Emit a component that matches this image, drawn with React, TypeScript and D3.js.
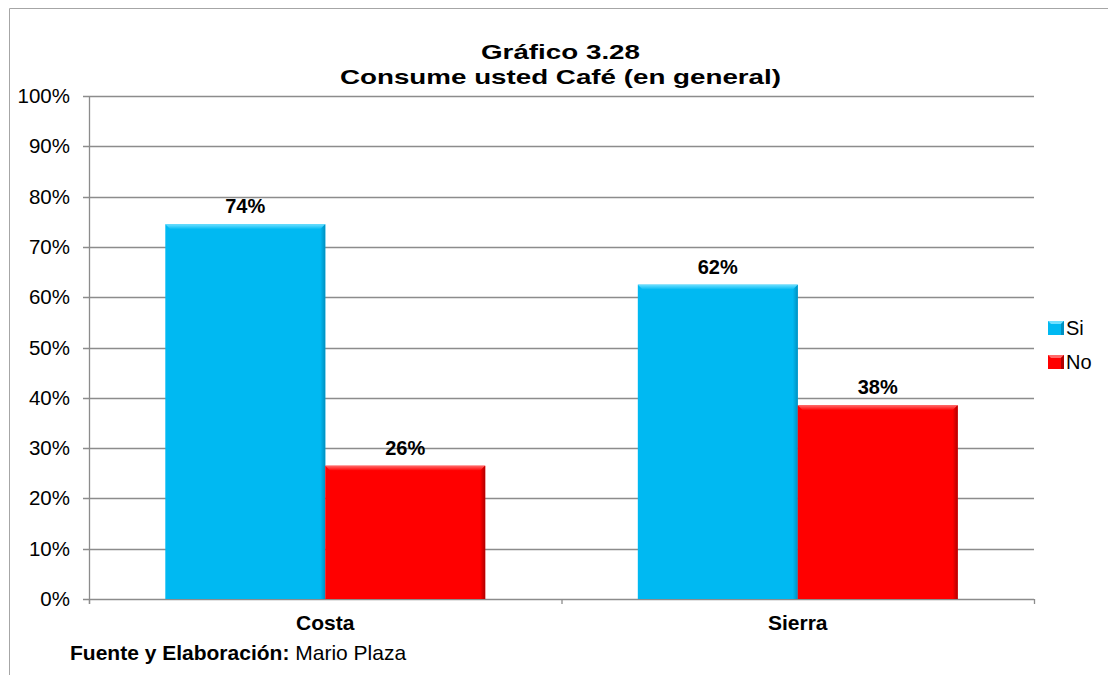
import React from "react";
import * as d3 from "d3";

const categories = ["Costa", "Sierra"];
const seriesNames = ["Si", "No"];
const siValues = [74.5, 62.5];
const noValues = [26.5, 38.5];
const siLabels = ["74%", "62%"];
const noLabels = ["26%", "38%"];
const yTicks = [0, 10, 20, 30, 40, 50, 60, 70, 80, 90, 100];

const W = 1108;
const H = 675;
const plot = { left: 89, right: 1034, top: 96, bottom: 599 };
const colors = ["#00b9f2", "#ff0000"];
const lightColors = ["#6fe0ff", "#ff6a6a"];
const darkColors = ["#0090c0", "#b00000"];
const font = "'Liberation Sans', Arial, sans-serif";

export default function App() {
  const y = d3.scaleLinear().domain([0, 100]).range([plot.bottom, plot.top]);
  const x0 = d3
    .scaleBand<string>()
    .domain(categories)
    .range([plot.left, plot.right])
    .paddingInner(0.323)
    .paddingOuter(0.1615);
  const x1 = d3.scaleBand<string>().domain(seriesNames).range([0, x0.bandwidth()]).padding(0);
  const series = [siValues, noValues];
  const labels = [siLabels, noLabels];
  const step = (plot.right - plot.left) / categories.length;

  return (
    <svg
      width={W}
      height={H}
      style={{ position: "absolute", left: 0, top: 0, background: "#fff" }}
      fontFamily={font}
    >
      <defs>
        {seriesNames.map((s, i) => (
          <linearGradient key={s} id={`top${i}`} x1="0" y1="0" x2="0" y2="1">
            <stop offset="0" stopColor={lightColors[i]} />
            <stop offset="1" stopColor={colors[i]} />
          </linearGradient>
        ))}
        {seriesNames.map((s, i) => (
          <linearGradient key={s} id={`right${i}`} x1="0" y1="0" x2="1" y2="0">
            <stop offset="0" stopColor={colors[i]} />
            <stop offset="1" stopColor={darkColors[i]} />
          </linearGradient>
        ))}
      </defs>
      {/* outer frame */}
      <path d={`M9.5,${H} V8.5 H${W}`} fill="none" stroke="#a6a6a6" strokeWidth={1} />

      {/* titles */}
      <text
        x={560.5}
        y={59}
        textAnchor="middle"
        fontWeight="bold"
        fontSize={21}
        textLength={159}
        lengthAdjust="spacingAndGlyphs"
      >
        Gráfico 3.28
      </text>
      <text
        x={560.5}
        y={84}
        textAnchor="middle"
        fontWeight="bold"
        fontSize={21}
        textLength={441}
        lengthAdjust="spacingAndGlyphs"
      >
        Consume usted Café (en general)
      </text>

      {/* gridlines and y ticks */}
      {yTicks.map((t) => (
        <g key={t}>
          <line
            x1={plot.left - 6}
            x2={plot.right}
            y1={Math.round(y(t)) + 0.5}
            y2={Math.round(y(t)) + 0.5}
            stroke="#8c8c8c"
            strokeWidth={1.3}
          />
          <text x={70} y={y(t) + 7} textAnchor="end" fontSize={20.5} fill="#000">
            {t}%
          </text>
        </g>
      ))}
      <line x1={plot.left + 0.5} x2={plot.left + 0.5} y1={plot.top} y2={plot.bottom + 5} stroke="#8c8c8c" strokeWidth={1.3} />
      {d3.range(categories.length + 1).map((i) => (
        <line
          key={i}
          x1={plot.left + i * step + 0.5}
          x2={plot.left + i * step + 0.5}
          y1={plot.bottom}
          y2={plot.bottom + 5}
          stroke="#8c8c8c"
          strokeWidth={1.3}
        />
      ))}

      {/* bars */}
      {categories.map((c, ci) =>
        seriesNames.map((s, si) => {
          const bx = (x0(c) as number) + (x1(s) as number);
          const bw = x1.bandwidth();
          const top = y(series[si][ci]);
          return (
            <g key={c + s}>
              <rect x={bx} y={top} width={bw} height={plot.bottom - top} fill={colors[si]} />
              <polygon
                points={`${bx},${top} ${bx + bw},${top} ${bx + bw - 5},${top + 5} ${bx + 5},${top + 5}`}
                fill={`url(#top${si})`}
              />
              <polygon
                points={`${bx + bw},${top} ${bx + bw},${plot.bottom} ${bx + bw - 5},${plot.bottom} ${bx + bw - 5},${top + 5}`}
                fill={`url(#right${si})`}
              />
              <text
                x={bx + bw / 2}
                y={top - 11}
                textAnchor="middle"
                fontWeight="bold"
                fontSize={20}
              >
                {labels[si][ci]}
              </text>
            </g>
          );
        })
      )}

      {/* category labels */}
      {categories.map((c) => (
        <text
          key={c}
          x={(x0(c) as number) + x0.bandwidth() / 2}
          y={630}
          textAnchor="middle"
          fontWeight="bold"
          fontSize={21}
        >
          {c}
        </text>
      ))}

      {/* legend */}
      {seriesNames.map((s, i) => (
        <g key={s} transform={`translate(1048, ${321 + i * 34})`}>
          <rect x={0} y={0} width={16} height={14} fill={colors[i]} />
          <polygon points="0,0 16,0 13,3 3,3" fill={lightColors[i]} />
          <polygon points="16,0 16,14 13,14 13,3" fill={darkColors[i]} />
          <text x={18} y={14} fontSize={20}>
            {s}
          </text>
        </g>
      ))}

      {/* source */}
      <text x={70} y={660} fontSize={21}>
        <tspan fontWeight="bold">Fuente y Elaboración:</tspan>
        <tspan> Mario Plaza</tspan>
      </text>
    </svg>
  );
}
